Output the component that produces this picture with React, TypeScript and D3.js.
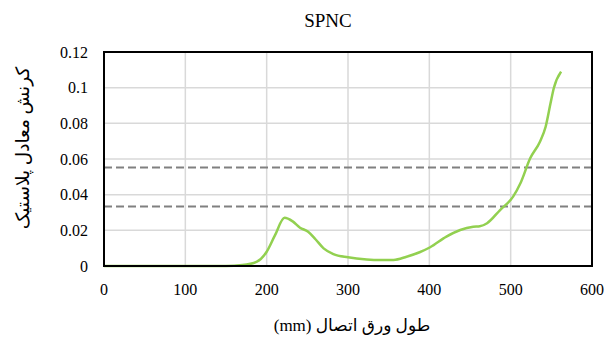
import React from "react";
import * as d3 from "d3";

const strainX = [0, 100, 150, 170, 188, 200, 210, 222, 232, 241, 251, 260, 270, 282, 300, 323, 340, 356, 372, 388, 401, 421, 438, 454, 462, 471, 487, 503, 512, 524, 536, 543, 549, 553, 562];
const strainY = [0, 0, 0, 0.0005, 0.0024, 0.008, 0.017, 0.027, 0.025, 0.0215, 0.0192, 0.015, 0.0099, 0.0067, 0.0049, 0.0037, 0.0034, 0.0034, 0.0052, 0.0077, 0.0105, 0.0165, 0.0202, 0.022, 0.0223, 0.024, 0.0314, 0.0389, 0.0464, 0.0604, 0.0697, 0.0781, 0.0912, 0.0997, 0.109];
const limitLines = [0.0553, 0.0334];
const xTicks = [0, 100, 200, 300, 400, 500, 600];
const yTicks = [0, 0.02, 0.04, 0.06, 0.08, 0.1, 0.12];
const yTickLabels = ["0", "0.02", "0.04", "0.06", "0.08", "0.1", "0.12"];

const W = 608, H = 339;
const L = 104, R = 592, T = 52, B = 266;
const serif = "'Liberation Serif', serif";
const arabic = "'Liberation Serif', 'DejaVu Sans', sans-serif";

export default function App() {
  const x = d3.scaleLinear().domain([0, 600]).range([L, R]);
  const y = d3.scaleLinear().domain([0, 0.12]).range([B, T]);
  const pts: [number, number][] = strainX.map((v, i) => [v, strainY[i]]);
  const line = d3.line<[number, number]>()
    .x(d => x(d[0]))
    .y(d => y(d[1]))
    .curve(d3.curveMonotoneX);

  return (
    <svg width={W} height={H} style={{ position: "absolute", left: 0, top: 0, background: "#fff" }}>
      <rect x={0} y={0} width={W} height={H} fill="#fff" />
      {xTicks.map(t => (
        <line key={"gx" + t} x1={x(t)} x2={x(t)} y1={T} y2={B} stroke="#d9d9d9" strokeWidth={1.5} />
      ))}
      {yTicks.map(t => (
        <line key={"gy" + t} x1={L} x2={R} y1={y(t)} y2={y(t)} stroke="#d9d9d9" strokeWidth={1.5} />
      ))}
      {limitLines.map(v => (
        <line key={"lim" + v} x1={L} x2={R} y1={y(v)} y2={y(v)} stroke="#808080" strokeWidth={2} strokeDasharray="8,4" />
      ))}
      <path d={line(pts) || ""} fill="none" stroke="#92d050" strokeWidth={2.5} strokeLinejoin="round" />
      <rect x={L} y={T} width={R - L} height={B - T} fill="none" stroke="#000" strokeWidth={2} />
      {xTicks.map(t => (
        <text key={"tx" + t} x={x(t)} y={B + 29} textAnchor="middle" fontFamily={serif} fontSize={16} fill="#000">{t}</text>
      ))}
      {yTicks.map((t, i) => (
        <text key={"ty" + t} x={88} y={y(t) + 5.5} textAnchor="end" fontFamily={serif} fontSize={16} fill="#000">{yTickLabels[i]}</text>
      ))}
      <text x={328} y={27} textAnchor="middle" fontFamily={serif} fontSize={19} fill="#000">SPNC</text>
      <text x={352} y={331} textAnchor="middle" fontFamily={arabic} fontSize={17} fill="#000" direction="rtl">طول ورق اتصال (mm)</text>
      <text transform={`translate(29, 148) rotate(-90)`} textAnchor="middle" fontFamily={arabic} fontSize={18.5} fill="#000" direction="rtl">کرنش معادل پلاستیک</text>
    </svg>
  );
}
